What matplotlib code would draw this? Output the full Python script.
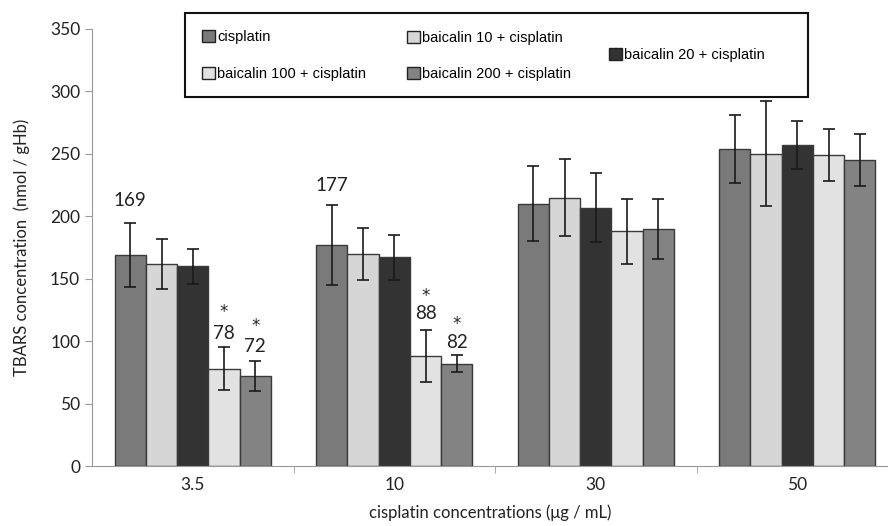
import matplotlib
matplotlib.use("Agg")
import matplotlib.pyplot as plt
import numpy as np
from matplotlib.patches import Patch, Rectangle

categories = ["3.5", "10", "30", "50"]
series = ["cisplatin", "baicalin 10 + cisplatin", "baicalin 20 + cisplatin",
          "baicalin 100 + cisplatin", "baicalin 200 + cisplatin"]
cisplatin = [169, 177, 210, 254]
b10 = [162, 170, 215, 250]
b20 = [160, 167, 207, 257]
b100 = [78, 88, 188, 249]
b200 = [72, 82, 190, 245]
err_cisplatin = [26, 32, 30, 27]
err_b10 = [20, 21, 31, 42]
err_b20 = [14, 18, 28, 19]
err_b100 = [17, 21, 26, 21]
err_b200 = [12, 7, 24, 21]
colors = ["#7a7a7a", "#d6d6d6", "#333333", "#e2e2e2", "#838383"]

values = [cisplatin, b10, b20, b100, b200]
errors = [err_cisplatin, err_b10, err_b20, err_b100, err_b200]

font = "Lato"
fig = plt.figure(figsize=(8.88, 5.26), dpi=100)
ax = fig.add_axes([0.1036, 0.114, 1 - 0.1036, 0.831])

x = np.arange(len(categories))
w = 0.155
for i, (vals, errs, c) in enumerate(zip(values, errors, colors)):
    ax.bar(x + (i - 2) * w, vals, w, color=c, edgecolor="#3a3a3a", linewidth=1.0,
           yerr=errs, capsize=4, error_kw=dict(ecolor="#1a1a1a", elinewidth=1.2, capthick=1.2),
           label=series[i], zorder=2)

ax.set_xlim(-0.5, 3.45)
ax.set_ylim(0, 350)
ax.set_yticks(np.arange(0, 351, 50))
ax.set_xticks(x)
ax.set_xticklabels(categories, fontsize=12.5, family=font, color="#222222")
ax.tick_params(axis="y", labelsize=12.5, colors="#222222", length=5, color="#999999")
for lab in ax.get_yticklabels():
    lab.set_family(font)
ax.tick_params(axis="x", length=0, pad=8)
ax.set_xticks([0.5, 1.5, 2.5], minor=True)
ax.tick_params(axis="x", which="minor", length=5, color="#999999")
for s in ["top", "right"]:
    ax.spines[s].set_visible(False)
ax.spines["left"].set_color("#999999")
ax.spines["bottom"].set_color("#999999")
ax.set_ylabel("TBARS concentration  (nmol / gHb)", fontsize=12, family=font, color="#222222", labelpad=14)
ax.set_xlabel("cisplatin concentrations (μg / mL)", fontsize=12, family=font, color="#222222", labelpad=8)

# annotations
ann = dict(ha="center", va="center", fontsize=13.5, family=font, color="#222222")
star = dict(ha="center", va="center", fontsize=12, family="DejaVu Sans", color="#222222")
ax.text(x[0] - 2 * w, 213, "169", **ann)
ax.text(x[1] - 2 * w, 225, "177", **ann)
ax.text(x[0] + w, 123, "*", **star)
ax.text(x[0] + w, 106, "78", **ann)
ax.text(x[0] + 2 * w, 112, "*", **star)
ax.text(x[0] + 2 * w, 96, "72", **ann)
ax.text(x[1] + w, 136, "*", **star)
ax.text(x[1] + w, 122, "88", **ann)
ax.text(x[1] + 2 * w, 114, "*", **star)
ax.text(x[1] + 2 * w, 99, "82", **ann)

# legend box
box = Rectangle((185 / 888, 1 - 97 / 526), (808 - 185) / 888, (97 - 13) / 526,
                transform=fig.transFigure, fill=False, edgecolor="#111111", linewidth=1.5, zorder=5)
fig.patches.append(box)
lfont = dict(family="Liberation Sans", size=10.5)

def entry(i, xf, yf):
    h = Patch(facecolor=colors[i], edgecolor="#222222", linewidth=1.0)
    lg = fig.legend([h], [series[i]], loc="center left", bbox_to_anchor=(xf, yf),
                    bbox_transform=fig.transFigure, frameon=False, prop=lfont,
                    handlelength=0.9, handleheight=0.9, handletextpad=0.15, borderpad=0, borderaxespad=0)
    return lg

entry(0, 202 / 888, 1 - 37 / 526)
entry(3, 202 / 888, 1 - 74 / 526)
entry(1, 407 / 888, 1 - 38 / 526)
entry(4, 407 / 888, 1 - 74 / 526)
entry(2, 609 / 888, 1 - 55 / 526)

fig.savefig("out.png", dpi=100)
